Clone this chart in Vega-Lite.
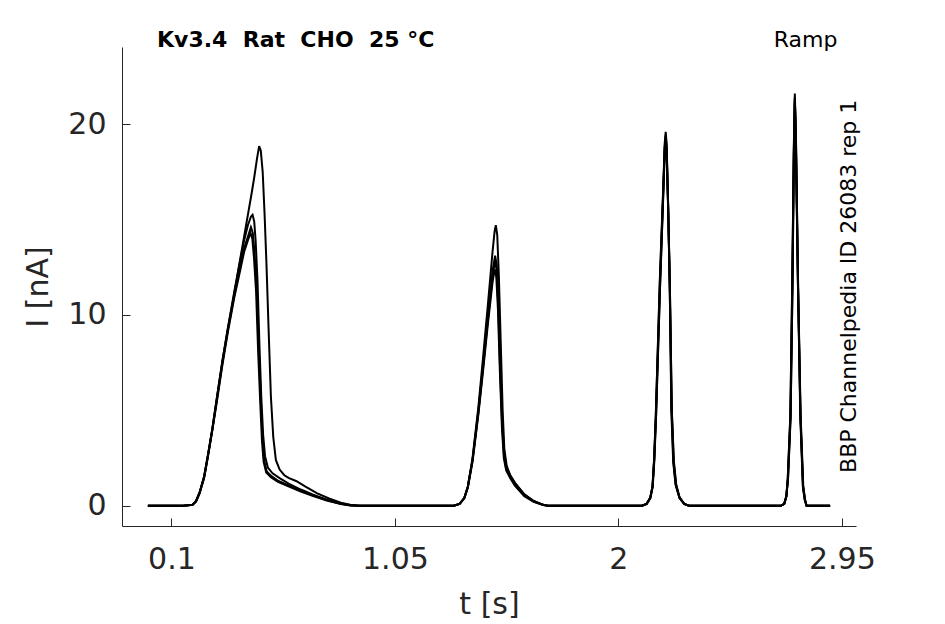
{
  "$schema": "https://vega.github.io/schema/vega-lite/v6.json",
  "autosize": "none",
  "padding": {"left": 122, "top": 47, "right": 89, "bottom": 98},
  "width": 734,
  "height": 479,
  "background": "white",
  "config": {
    "view": {"stroke": null},
    "font": "DejaVu Sans",
    "axis": {
      "grid": false,
      "domainColor": "#262626",
      "tickColor": "#262626",
      "labelColor": "#262626",
      "titleColor": "#262626",
      "labelFont": "DejaVu Sans",
      "titleFont": "DejaVu Sans",
      "labelFontSize": 30,
      "titleFontSize": 30,
      "titleFontWeight": "normal",
      "tickSize": -8,
      "tickWidth": 1,
      "domainWidth": 1
    }
  },
  "datasets": {
    "traces": [
      {"trace": "a", "t": 0, "i": 0}, {"trace": "a", "t": 0.15, "i": 0}, {"trace": "a", "t": 0.19, "i": 0.05}, {"trace": "a", "t": 0.205, "i": 0.25},
      {"trace": "a", "t": 0.22, "i": 0.7}, {"trace": "a", "t": 0.239, "i": 1.5}, {"trace": "a", "t": 0.255, "i": 2.6}, {"trace": "a", "t": 0.274, "i": 4.0},
      {"trace": "a", "t": 0.295, "i": 5.8}, {"trace": "a", "t": 0.317, "i": 7.6}, {"trace": "a", "t": 0.34, "i": 9.3}, {"trace": "a", "t": 0.367, "i": 11.1},
      {"trace": "a", "t": 0.395, "i": 13.1}, {"trace": "a", "t": 0.423, "i": 15.1}, {"trace": "a", "t": 0.44, "i": 16.3}, {"trace": "a", "t": 0.452, "i": 17.2},
      {"trace": "a", "t": 0.464, "i": 18.2}, {"trace": "a", "t": 0.473, "i": 18.85}, {"trace": "a", "t": 0.48, "i": 18.6}, {"trace": "a", "t": 0.488, "i": 17.5},
      {"trace": "a", "t": 0.496, "i": 15.3}, {"trace": "a", "t": 0.504, "i": 12.7}, {"trace": "a", "t": 0.513, "i": 9.3}, {"trace": "a", "t": 0.523, "i": 5.7},
      {"trace": "a", "t": 0.533, "i": 3.6}, {"trace": "a", "t": 0.544, "i": 2.4}, {"trace": "a", "t": 0.56, "i": 1.9}, {"trace": "a", "t": 0.58, "i": 1.6},
      {"trace": "a", "t": 0.6, "i": 1.45}, {"trace": "a", "t": 0.63, "i": 1.3}, {"trace": "a", "t": 0.67, "i": 1.0}, {"trace": "a", "t": 0.72, "i": 0.65},
      {"trace": "a", "t": 0.77, "i": 0.38}, {"trace": "a", "t": 0.82, "i": 0.16}, {"trace": "a", "t": 0.86, "i": 0.05}, {"trace": "a", "t": 0.9, "i": 0},
      {"trace": "a", "t": 1.3, "i": 0}, {"trace": "a", "t": 1.325, "i": 0.1}, {"trace": "a", "t": 1.345, "i": 0.4}, {"trace": "a", "t": 1.36, "i": 1.0},
      {"trace": "a", "t": 1.38, "i": 2.5}, {"trace": "a", "t": 1.405, "i": 5.2}, {"trace": "a", "t": 1.425, "i": 7.8}, {"trace": "a", "t": 1.445, "i": 10.5},
      {"trace": "a", "t": 1.465, "i": 13.3}, {"trace": "a", "t": 1.474, "i": 14.4}, {"trace": "a", "t": 1.479, "i": 14.7}, {"trace": "a", "t": 1.485, "i": 14.2},
      {"trace": "a", "t": 1.492, "i": 12.0}, {"trace": "a", "t": 1.5, "i": 8.5}, {"trace": "a", "t": 1.508, "i": 5.0}, {"trace": "a", "t": 1.515, "i": 3.0},
      {"trace": "a", "t": 1.525, "i": 2.1}, {"trace": "a", "t": 1.54, "i": 1.6}, {"trace": "a", "t": 1.56, "i": 1.2}, {"trace": "a", "t": 1.6, "i": 0.6},
      {"trace": "a", "t": 1.64, "i": 0.25}, {"trace": "a", "t": 1.68, "i": 0.05}, {"trace": "a", "t": 1.7, "i": 0},
      {"trace": "a", "t": 2.1, "i": 0}, {"trace": "a", "t": 2.12, "i": 0.1}, {"trace": "a", "t": 2.135, "i": 0.4}, {"trace": "a", "t": 2.145, "i": 1.0},
      {"trace": "a", "t": 2.152, "i": 2.5}, {"trace": "a", "t": 2.159, "i": 4.8}, {"trace": "a", "t": 2.176, "i": 11.8}, {"trace": "a", "t": 2.19, "i": 16.5},
      {"trace": "a", "t": 2.197, "i": 19.0}, {"trace": "a", "t": 2.201, "i": 19.6}, {"trace": "a", "t": 2.205, "i": 19.0}, {"trace": "a", "t": 2.211, "i": 16.0},
      {"trace": "a", "t": 2.218, "i": 11.8}, {"trace": "a", "t": 2.225, "i": 5.0}, {"trace": "a", "t": 2.233, "i": 2.3}, {"trace": "a", "t": 2.243, "i": 1.1},
      {"trace": "a", "t": 2.26, "i": 0.4}, {"trace": "a", "t": 2.28, "i": 0.1}, {"trace": "a", "t": 2.3, "i": 0},
      {"trace": "a", "t": 2.69, "i": 0}, {"trace": "a", "t": 2.705, "i": 0.1}, {"trace": "a", "t": 2.714, "i": 0.5}, {"trace": "a", "t": 2.72, "i": 1.5},
      {"trace": "a", "t": 2.731, "i": 4.8}, {"trace": "a", "t": 2.739, "i": 11.8}, {"trace": "a", "t": 2.746, "i": 19.0}, {"trace": "a", "t": 2.75, "i": 21.6},
      {"trace": "a", "t": 2.754, "i": 19.5}, {"trace": "a", "t": 2.763, "i": 11.8}, {"trace": "a", "t": 2.773, "i": 4.8}, {"trace": "a", "t": 2.784, "i": 1.0},
      {"trace": "a", "t": 2.792, "i": 0.3}, {"trace": "a", "t": 2.8, "i": 0}, {"trace": "a", "t": 2.9, "i": 0},

      {"trace": "b", "t": 0, "i": 0}, {"trace": "b", "t": 0.15, "i": 0}, {"trace": "b", "t": 0.19, "i": 0.05}, {"trace": "b", "t": 0.205, "i": 0.25},
      {"trace": "b", "t": 0.22, "i": 0.7}, {"trace": "b", "t": 0.239, "i": 1.55}, {"trace": "b", "t": 0.255, "i": 2.65}, {"trace": "b", "t": 0.274, "i": 4.05},
      {"trace": "b", "t": 0.295, "i": 5.8}, {"trace": "b", "t": 0.317, "i": 7.6}, {"trace": "b", "t": 0.34, "i": 9.3}, {"trace": "b", "t": 0.367, "i": 11.2},
      {"trace": "b", "t": 0.39, "i": 12.7}, {"trace": "b", "t": 0.409, "i": 13.9}, {"trace": "b", "t": 0.425, "i": 14.7}, {"trace": "b", "t": 0.438, "i": 15.15},
      {"trace": "b", "t": 0.445, "i": 15.25}, {"trace": "b", "t": 0.452, "i": 14.9}, {"trace": "b", "t": 0.458, "i": 13.9}, {"trace": "b", "t": 0.466, "i": 11.8},
      {"trace": "b", "t": 0.474, "i": 8.5}, {"trace": "b", "t": 0.482, "i": 5.7}, {"trace": "b", "t": 0.49, "i": 3.7}, {"trace": "b", "t": 0.498, "i": 2.6},
      {"trace": "b", "t": 0.51, "i": 2.0}, {"trace": "b", "t": 0.53, "i": 1.7}, {"trace": "b", "t": 0.56, "i": 1.45}, {"trace": "b", "t": 0.6, "i": 1.15},
      {"trace": "b", "t": 0.65, "i": 0.85}, {"trace": "b", "t": 0.7, "i": 0.6}, {"trace": "b", "t": 0.76, "i": 0.32}, {"trace": "b", "t": 0.82, "i": 0.12},
      {"trace": "b", "t": 0.86, "i": 0.03}, {"trace": "b", "t": 0.9, "i": 0},
      {"trace": "b", "t": 1.3, "i": 0}, {"trace": "b", "t": 1.325, "i": 0.1}, {"trace": "b", "t": 1.345, "i": 0.4}, {"trace": "b", "t": 1.36, "i": 1.0},
      {"trace": "b", "t": 1.38, "i": 2.4}, {"trace": "b", "t": 1.405, "i": 5.0}, {"trace": "b", "t": 1.425, "i": 7.4}, {"trace": "b", "t": 1.445, "i": 9.9},
      {"trace": "b", "t": 1.465, "i": 12.3}, {"trace": "b", "t": 1.476, "i": 13.1}, {"trace": "b", "t": 1.483, "i": 12.6}, {"trace": "b", "t": 1.49, "i": 10.8},
      {"trace": "b", "t": 1.498, "i": 7.5}, {"trace": "b", "t": 1.507, "i": 4.3}, {"trace": "b", "t": 1.515, "i": 2.7}, {"trace": "b", "t": 1.525, "i": 2.0},
      {"trace": "b", "t": 1.54, "i": 1.6}, {"trace": "b", "t": 1.56, "i": 1.2}, {"trace": "b", "t": 1.6, "i": 0.6}, {"trace": "b", "t": 1.64, "i": 0.25},
      {"trace": "b", "t": 1.68, "i": 0.05}, {"trace": "b", "t": 1.7, "i": 0},
      {"trace": "b", "t": 2.1, "i": 0}, {"trace": "b", "t": 2.12, "i": 0.1}, {"trace": "b", "t": 2.135, "i": 0.4}, {"trace": "b", "t": 2.145, "i": 1.0},
      {"trace": "b", "t": 2.152, "i": 2.4}, {"trace": "b", "t": 2.159, "i": 4.7}, {"trace": "b", "t": 2.176, "i": 11.6}, {"trace": "b", "t": 2.19, "i": 16.3},
      {"trace": "b", "t": 2.197, "i": 18.8}, {"trace": "b", "t": 2.201, "i": 19.4}, {"trace": "b", "t": 2.205, "i": 18.8}, {"trace": "b", "t": 2.211, "i": 15.8},
      {"trace": "b", "t": 2.218, "i": 11.6}, {"trace": "b", "t": 2.226, "i": 5.0}, {"trace": "b", "t": 2.234, "i": 2.3}, {"trace": "b", "t": 2.244, "i": 1.1},
      {"trace": "b", "t": 2.26, "i": 0.4}, {"trace": "b", "t": 2.28, "i": 0.1}, {"trace": "b", "t": 2.3, "i": 0},
      {"trace": "b", "t": 2.69, "i": 0}, {"trace": "b", "t": 2.705, "i": 0.1}, {"trace": "b", "t": 2.714, "i": 0.5}, {"trace": "b", "t": 2.72, "i": 1.4},
      {"trace": "b", "t": 2.731, "i": 4.7}, {"trace": "b", "t": 2.739, "i": 11.6}, {"trace": "b", "t": 2.746, "i": 18.8}, {"trace": "b", "t": 2.75, "i": 21.4},
      {"trace": "b", "t": 2.754, "i": 19.3}, {"trace": "b", "t": 2.763, "i": 11.7}, {"trace": "b", "t": 2.774, "i": 4.7}, {"trace": "b", "t": 2.785, "i": 1.0},
      {"trace": "b", "t": 2.793, "i": 0.3}, {"trace": "b", "t": 2.8, "i": 0}, {"trace": "b", "t": 2.9, "i": 0},

      {"trace": "c", "t": 0, "i": 0}, {"trace": "c", "t": 0.15, "i": 0}, {"trace": "c", "t": 0.19, "i": 0.05}, {"trace": "c", "t": 0.205, "i": 0.25},
      {"trace": "c", "t": 0.22, "i": 0.7}, {"trace": "c", "t": 0.239, "i": 1.5}, {"trace": "c", "t": 0.255, "i": 2.6}, {"trace": "c", "t": 0.274, "i": 4.0},
      {"trace": "c", "t": 0.295, "i": 5.7}, {"trace": "c", "t": 0.317, "i": 7.5}, {"trace": "c", "t": 0.34, "i": 9.2}, {"trace": "c", "t": 0.367, "i": 11.0},
      {"trace": "c", "t": 0.39, "i": 12.4}, {"trace": "c", "t": 0.409, "i": 13.5}, {"trace": "c", "t": 0.425, "i": 14.1}, {"trace": "c", "t": 0.438, "i": 14.6},
      {"trace": "c", "t": 0.446, "i": 14.3}, {"trace": "c", "t": 0.453, "i": 13.3}, {"trace": "c", "t": 0.462, "i": 11.6}, {"trace": "c", "t": 0.471, "i": 8.4},
      {"trace": "c", "t": 0.48, "i": 5.6}, {"trace": "c", "t": 0.487, "i": 3.6}, {"trace": "c", "t": 0.494, "i": 2.4}, {"trace": "c", "t": 0.505, "i": 1.8},
      {"trace": "c", "t": 0.525, "i": 1.55}, {"trace": "c", "t": 0.555, "i": 1.3}, {"trace": "c", "t": 0.6, "i": 1.05}, {"trace": "c", "t": 0.65, "i": 0.78},
      {"trace": "c", "t": 0.7, "i": 0.55}, {"trace": "c", "t": 0.76, "i": 0.3}, {"trace": "c", "t": 0.82, "i": 0.1}, {"trace": "c", "t": 0.86, "i": 0.03},
      {"trace": "c", "t": 0.9, "i": 0},
      {"trace": "c", "t": 1.3, "i": 0}, {"trace": "c", "t": 1.325, "i": 0.1}, {"trace": "c", "t": 1.345, "i": 0.4}, {"trace": "c", "t": 1.36, "i": 1.0},
      {"trace": "c", "t": 1.38, "i": 2.4}, {"trace": "c", "t": 1.405, "i": 4.9}, {"trace": "c", "t": 1.425, "i": 7.3}, {"trace": "c", "t": 1.445, "i": 9.7},
      {"trace": "c", "t": 1.465, "i": 12.0}, {"trace": "c", "t": 1.475, "i": 12.8}, {"trace": "c", "t": 1.482, "i": 12.4}, {"trace": "c", "t": 1.489, "i": 10.6},
      {"trace": "c", "t": 1.497, "i": 7.3}, {"trace": "c", "t": 1.506, "i": 4.2}, {"trace": "c", "t": 1.514, "i": 2.6}, {"trace": "c", "t": 1.524, "i": 1.9},
      {"trace": "c", "t": 1.54, "i": 1.5}, {"trace": "c", "t": 1.56, "i": 1.1}, {"trace": "c", "t": 1.6, "i": 0.55}, {"trace": "c", "t": 1.64, "i": 0.22},
      {"trace": "c", "t": 1.68, "i": 0.05}, {"trace": "c", "t": 1.7, "i": 0},
      {"trace": "c", "t": 2.1, "i": 0}, {"trace": "c", "t": 2.12, "i": 0.1}, {"trace": "c", "t": 2.135, "i": 0.4}, {"trace": "c", "t": 2.145, "i": 1.0},
      {"trace": "c", "t": 2.152, "i": 2.4}, {"trace": "c", "t": 2.16, "i": 4.7}, {"trace": "c", "t": 2.177, "i": 11.5}, {"trace": "c", "t": 2.19, "i": 16.1},
      {"trace": "c", "t": 2.197, "i": 18.7}, {"trace": "c", "t": 2.2, "i": 19.3}, {"trace": "c", "t": 2.205, "i": 18.6}, {"trace": "c", "t": 2.212, "i": 15.5},
      {"trace": "c", "t": 2.219, "i": 11.4}, {"trace": "c", "t": 2.227, "i": 5.0}, {"trace": "c", "t": 2.235, "i": 2.3}, {"trace": "c", "t": 2.245, "i": 1.1},
      {"trace": "c", "t": 2.26, "i": 0.4}, {"trace": "c", "t": 2.28, "i": 0.1}, {"trace": "c", "t": 2.3, "i": 0},
      {"trace": "c", "t": 2.69, "i": 0}, {"trace": "c", "t": 2.705, "i": 0.1}, {"trace": "c", "t": 2.714, "i": 0.5}, {"trace": "c", "t": 2.721, "i": 1.4},
      {"trace": "c", "t": 2.732, "i": 4.7}, {"trace": "c", "t": 2.74, "i": 11.5}, {"trace": "c", "t": 2.746, "i": 18.6}, {"trace": "c", "t": 2.75, "i": 21.3},
      {"trace": "c", "t": 2.755, "i": 19.1}, {"trace": "c", "t": 2.764, "i": 11.5}, {"trace": "c", "t": 2.774, "i": 4.6}, {"trace": "c", "t": 2.785, "i": 1.0},
      {"trace": "c", "t": 2.793, "i": 0.3}, {"trace": "c", "t": 2.8, "i": 0}, {"trace": "c", "t": 2.9, "i": 0},

      {"trace": "d", "t": 0, "i": 0}, {"trace": "d", "t": 0.15, "i": 0}, {"trace": "d", "t": 0.19, "i": 0.05}, {"trace": "d", "t": 0.205, "i": 0.22},
      {"trace": "d", "t": 0.22, "i": 0.65}, {"trace": "d", "t": 0.239, "i": 1.45}, {"trace": "d", "t": 0.255, "i": 2.55}, {"trace": "d", "t": 0.274, "i": 3.95},
      {"trace": "d", "t": 0.295, "i": 5.6}, {"trace": "d", "t": 0.317, "i": 7.4}, {"trace": "d", "t": 0.34, "i": 9.1}, {"trace": "d", "t": 0.367, "i": 10.9},
      {"trace": "d", "t": 0.39, "i": 12.2}, {"trace": "d", "t": 0.409, "i": 13.3}, {"trace": "d", "t": 0.425, "i": 13.9}, {"trace": "d", "t": 0.436, "i": 14.3},
      {"trace": "d", "t": 0.444, "i": 14.0}, {"trace": "d", "t": 0.451, "i": 13.0}, {"trace": "d", "t": 0.46, "i": 11.2}, {"trace": "d", "t": 0.469, "i": 8.0},
      {"trace": "d", "t": 0.478, "i": 5.3}, {"trace": "d", "t": 0.485, "i": 3.4}, {"trace": "d", "t": 0.492, "i": 2.3}, {"trace": "d", "t": 0.503, "i": 1.75},
      {"trace": "d", "t": 0.523, "i": 1.5}, {"trace": "d", "t": 0.553, "i": 1.25}, {"trace": "d", "t": 0.6, "i": 1.0}, {"trace": "d", "t": 0.65, "i": 0.74},
      {"trace": "d", "t": 0.7, "i": 0.52}, {"trace": "d", "t": 0.76, "i": 0.28}, {"trace": "d", "t": 0.82, "i": 0.09}, {"trace": "d", "t": 0.86, "i": 0.02},
      {"trace": "d", "t": 0.9, "i": 0},
      {"trace": "d", "t": 1.3, "i": 0}, {"trace": "d", "t": 1.325, "i": 0.1}, {"trace": "d", "t": 1.345, "i": 0.4}, {"trace": "d", "t": 1.36, "i": 0.95},
      {"trace": "d", "t": 1.38, "i": 2.3}, {"trace": "d", "t": 1.405, "i": 4.8}, {"trace": "d", "t": 1.425, "i": 7.1}, {"trace": "d", "t": 1.445, "i": 9.5},
      {"trace": "d", "t": 1.465, "i": 11.7}, {"trace": "d", "t": 1.474, "i": 12.4}, {"trace": "d", "t": 1.481, "i": 12.0}, {"trace": "d", "t": 1.488, "i": 10.3},
      {"trace": "d", "t": 1.496, "i": 7.1}, {"trace": "d", "t": 1.505, "i": 4.1}, {"trace": "d", "t": 1.513, "i": 2.5}, {"trace": "d", "t": 1.523, "i": 1.85},
      {"trace": "d", "t": 1.54, "i": 1.45}, {"trace": "d", "t": 1.56, "i": 1.05}, {"trace": "d", "t": 1.6, "i": 0.5}, {"trace": "d", "t": 1.64, "i": 0.2},
      {"trace": "d", "t": 1.68, "i": 0.04}, {"trace": "d", "t": 1.7, "i": 0},
      {"trace": "d", "t": 2.1, "i": 0}, {"trace": "d", "t": 2.12, "i": 0.1}, {"trace": "d", "t": 2.136, "i": 0.4}, {"trace": "d", "t": 2.146, "i": 1.0},
      {"trace": "d", "t": 2.153, "i": 2.4}, {"trace": "d", "t": 2.16, "i": 4.6}, {"trace": "d", "t": 2.177, "i": 11.4}, {"trace": "d", "t": 2.19, "i": 16.0},
      {"trace": "d", "t": 2.197, "i": 18.6}, {"trace": "d", "t": 2.2, "i": 19.2}, {"trace": "d", "t": 2.205, "i": 18.5}, {"trace": "d", "t": 2.212, "i": 15.4},
      {"trace": "d", "t": 2.219, "i": 11.3}, {"trace": "d", "t": 2.227, "i": 5.0}, {"trace": "d", "t": 2.236, "i": 2.3}, {"trace": "d", "t": 2.246, "i": 1.1},
      {"trace": "d", "t": 2.26, "i": 0.45}, {"trace": "d", "t": 2.28, "i": 0.1}, {"trace": "d", "t": 2.3, "i": 0},
      {"trace": "d", "t": 2.69, "i": 0}, {"trace": "d", "t": 2.705, "i": 0.1}, {"trace": "d", "t": 2.714, "i": 0.5}, {"trace": "d", "t": 2.721, "i": 1.4},
      {"trace": "d", "t": 2.732, "i": 4.6}, {"trace": "d", "t": 2.74, "i": 11.4}, {"trace": "d", "t": 2.746, "i": 18.5}, {"trace": "d", "t": 2.75, "i": 21.2},
      {"trace": "d", "t": 2.755, "i": 19.0}, {"trace": "d", "t": 2.764, "i": 11.4}, {"trace": "d", "t": 2.775, "i": 4.6}, {"trace": "d", "t": 2.786, "i": 1.0},
      {"trace": "d", "t": 2.794, "i": 0.3}, {"trace": "d", "t": 2.8, "i": 0}, {"trace": "d", "t": 2.9, "i": 0}
    ]
  },
  "encoding": {
    "x": {
      "field": "t",
      "type": "quantitative",
      "scale": {"domain": [-0.11, 3.01], "nice": false, "zero": false},
      "axis": {"values": [0.1, 1.05, 2, 2.95], "format": ".3~g", "title": "t [s]", "labelPadding": 26, "titlePadding": 15}
    },
    "y": {
      "field": "i",
      "type": "quantitative",
      "scale": {"domain": [-1.06, 24.04], "nice": false, "zero": false},
      "axis": {"values": [0, 10, 20], "format": ".3~g", "title": "I [nA]", "labelPadding": 24, "titlePadding": 14}
    }
  },
  "layer": [
    {
      "data": {"name": "traces"},
      "mark": {"type": "line", "color": "black", "strokeWidth": 2, "clip": true},
      "encoding": {"detail": {"field": "trace", "type": "nominal"}}
    },
    {
      "data": {"values": [{"label": "Kv3.4\u00a0 Rat\u00a0 CHO\u00a0 25 °C", "t": 0.039, "i": 24.06}]},
      "mark": {"type": "text", "align": "left", "baseline": "alphabetic", "fontSize": 22, "fontWeight": "bold", "color": "black", "font": "DejaVu Sans"},
      "encoding": {"text": {"field": "label"}}
    },
    {
      "data": {"values": [{"label": "Ramp", "t": 2.931, "i": 24.06}]},
      "mark": {"type": "text", "align": "right", "baseline": "alphabetic", "fontSize": 22, "color": "black", "font": "DejaVu Sans"},
      "encoding": {"text": {"field": "label"}}
    },
    {
      "data": {"values": [{"label": "BBP Channelpedia ID 26083 rep 1", "t": 2.982, "i": 11.5}]},
      "mark": {"type": "text", "align": "center", "baseline": "middle", "angle": 270, "fontSize": 22, "color": "black", "font": "DejaVu Sans"},
      "encoding": {"text": {"field": "label"}}
    }
  ]
}
